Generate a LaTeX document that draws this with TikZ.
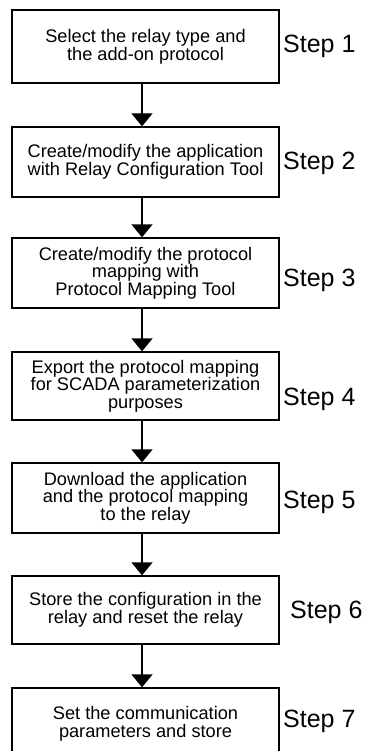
\documentclass[tikz,border=0pt]{standalone}
\usepackage{fontspec}
\setmainfont{Liberation Sans}
\usetikzlibrary{arrows.meta}
\begin{document}
\begin{tikzpicture}[x=1pt,y=-1pt,
  stepbox/.style={draw, line width=1.3pt, minimum width=267pt, inner sep=0pt, align=center,
    font=\fontsize{18.2}{17.5}\selectfont},
  steplabel/.style={anchor=base west, inner sep=0pt, font=\fontsize{25}{30}\selectfont},
  flow/.style={line width=1.3pt, -{Triangle[width=21pt,length=13pt]}}]
\clip (0,0) rectangle (368,751);
\node[stepbox, minimum height=73pt, font=\fontsize{18.2}{15.5}\selectfont] (b1) at (145.5,46.5) {Select the relay type and\\the add-on protocol};
\node[stepbox, minimum height=70pt] (b2) at (145.5,162) {Create/modify the application\\with Relay Configuration Tool};
\node[stepbox, minimum height=70pt] (b3) at (145.5,273) {Create/modify the protocol\\mapping with\\Protocol Mapping Tool};
\node[stepbox, minimum height=68pt] (b4) at (145.5,386) {Export the protocol mapping\\for SCADA parameterization\\purposes};
\node[stepbox, minimum height=70pt] (b5) at (145.5,498) {Download the application\\and the protocol mapping\\to the relay};
\node[stepbox, minimum height=68pt] (b6) at (145.5,610) {Store the configuration in the\\relay and reset the relay};
\node[stepbox, minimum height=72pt] (b7) at (145.5,724) {Set the communication\\parameters and store};
\node[steplabel] (s1) at (283,53) {Step 1};
\node[steplabel] (s2) at (283,170) {Step 2};
\node[steplabel] (s3) at (283,286.5) {Step 3};
\node[steplabel] (s4) at (283,405) {Step 4};
\node[steplabel] (s5) at (283,508) {Step 5};
\node[steplabel] (s6) at (290,618) {Step 6};
\node[steplabel] (s7) at (283,727) {Step 7};
\draw[flow] ([xshift=-3.5pt]b1.south) -- ([xshift=-3.5pt]b2.north);
\draw[flow] ([xshift=-3.5pt]b2.south) -- ([xshift=-3.5pt]b3.north);
\draw[flow] ([xshift=-3.5pt]b3.south) -- ([xshift=-3.5pt]b4.north);
\draw[flow] ([xshift=-3.5pt]b4.south) -- ([xshift=-3.5pt]b5.north);
\draw[flow] ([xshift=-3.5pt]b5.south) -- ([xshift=-3.5pt]b6.north);
\draw[flow] ([xshift=-3.5pt]b6.south) -- ([xshift=-3.5pt]b7.north);
\end{tikzpicture}
\end{document}
